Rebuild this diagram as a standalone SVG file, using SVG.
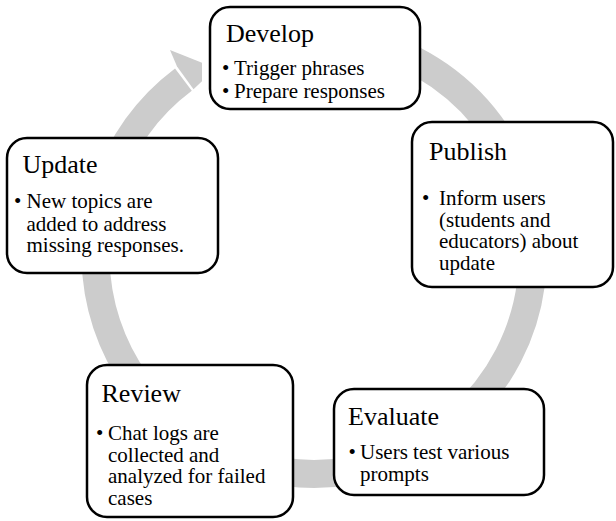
<svg xmlns="http://www.w3.org/2000/svg" width="616" height="521" viewBox="0 0 616 521">
<style>
.box{fill:#ffffff;stroke:#000000;stroke-width:2.5}
.ring{fill:none;stroke:#cccccc;stroke-width:28}
.head{fill:#cccccc;stroke:none}
text{font-family:"Liberation Serif","Times New Roman",serif;fill:#000000}
.h{font-size:26px}
.b{font-size:21px}
</style>
<rect width="616" height="521" fill="#ffffff"/>
<g id="connectors">
<path class="ring" d="M 370.7 43.5 A 219 219 0 0 1 314 474 A 219 219 0 0 1 183.4 79.6"/>
<polygon class="head" points="177.05,66.5 170,50 202,62.7 202,81.2 193.5,89.15"/>
</g>
<g id="develop">
<rect class="box" x="210" y="7" width="210" height="102" rx="20"/>
<text class="h" x="226" y="42">Develop</text>
<text class="b" x="222" y="75">•</text><text class="b" x="234" y="75">Trigger phrases</text>
<text class="b" x="222" y="98">•</text><text class="b" x="234" y="98">Prepare responses</text>
</g>
<g id="publish">
<rect class="box" x="412" y="122" width="201" height="165" rx="20"/>
<text class="h" x="429" y="160">Publish</text>
<text class="b" x="422" y="205">•</text>
<text class="b" x="439" y="205">Inform users</text>
<text class="b" x="439" y="226.7">(students and</text>
<text class="b" x="439" y="248.4">educators) about</text>
<text class="b" x="439" y="270">update</text>
</g>
<g id="evaluate">
<rect class="box" x="334" y="389" width="210" height="106" rx="20"/>
<text class="h" x="348" y="425">Evaluate</text>
<text class="b" x="348.5" y="459">•</text>
<text class="b" x="360" y="459">Users test various</text>
<text class="b" x="360" y="480.7">prompts</text>
</g>
<g id="review">
<rect class="box" x="87" y="365" width="206" height="152" rx="20"/>
<text class="h" x="101.5" y="401.7">Review</text>
<text class="b" x="96" y="440">•</text>
<text class="b" x="108" y="440">Chat logs are</text>
<text class="b" x="108" y="461.7">collected and</text>
<text class="b" x="108" y="483.4">analyzed for failed</text>
<text class="b" x="108" y="505">cases</text>
</g>
<g id="update">
<rect class="box" x="7" y="138" width="211" height="135" rx="20"/>
<text class="h" x="22.5" y="173">Update</text>
<text class="b" x="14" y="208.3">•</text>
<text class="b" x="26.5" y="208.3">New topics are</text>
<text class="b" x="26.5" y="230.5">added to address</text>
<text class="b" x="26.5" y="252.3">missing responses.</text>
</g>
</svg>
